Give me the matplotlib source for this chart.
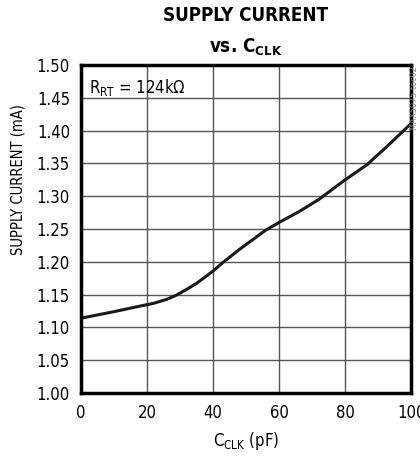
import matplotlib
matplotlib.use("Agg")
import matplotlib.pyplot as plt

# Curve (MAX5075 toc02)
cclk_pf = [0, 10, 18, 22, 26, 29, 32, 35, 38, 40, 43, 45, 48, 56, 60, 66, 72, 80, 86.6, 92.6, 100]
supply_ma = [1.114, 1.124, 1.1326, 1.1367, 1.1428, 1.1494, 1.158, 1.1672, 1.1784, 1.186,
             1.199, 1.207, 1.219, 1.2485, 1.260, 1.2764, 1.295, 1.325, 1.348, 1.3755, 1.411]

x_ticks = [0, 20, 40, 60, 80, 100]
y_ticks = [1.00, 1.05, 1.10, 1.15, 1.20, 1.25, 1.30, 1.35, 1.40, 1.45, 1.50]

plt.rcParams["font.family"] = ["DejaVu Sans"]
plt.rcParams["font.stretch"] = "condensed"
plt.rcParams["mathtext.fontset"] = "custom"
plt.rcParams["mathtext.rm"] = "DejaVu Sans:stretch=condensed"

fig = plt.figure(figsize=(4.2, 4.58), dpi=100)
ax = fig.add_axes([0.193, 0.142, 0.786, 0.716])

ax.plot(cclk_pf, supply_ma, color="#1a1a1a", linewidth=2.2,
        solid_joinstyle="round", solid_capstyle="butt")

ax.set_xlim(0, 100)
ax.set_ylim(1.00, 1.50)
ax.set_xticks(x_ticks)
ax.set_yticks(y_ticks)
ax.set_yticklabels([f"{v:.2f}" for v in y_ticks])
ax.tick_params(length=0, labelsize=12, pad=8)
ax.grid(True, color="#555555", linewidth=1.0)
for s in ax.spines.values():
    s.set_linewidth(2.5)
    s.set_color("black")

ax.set_xlabel(r"C$_{\mathregular{CLK}}$ (pF)", fontsize=12, labelpad=6)
ax.set_ylabel("SUPPLY CURRENT (mA)", fontsize=10.5)
ax.yaxis.set_label_coords(-0.168, 0.65)

fig.text(0.585, 0.986, "SUPPLY CURRENT", ha="center", va="top",
         fontsize=13.5, fontweight="bold")
fig.text(0.585, 0.920, r"vs. C$_{\mathregular{CLK}}$", ha="center", va="top",
         fontsize=13.5, fontweight="bold")

ax.text(0.025, 0.965, r"R$_{\mathregular{RT}}$ = 124k$\Omega$", transform=ax.transAxes,
        ha="left", va="top", fontsize=12)

fig.text(0.988, 0.855, "MAX5075 toc02", rotation=90, ha="center", va="top",
         fontsize=6.5, color="#888888")

fig.savefig("out.png", dpi=100)
